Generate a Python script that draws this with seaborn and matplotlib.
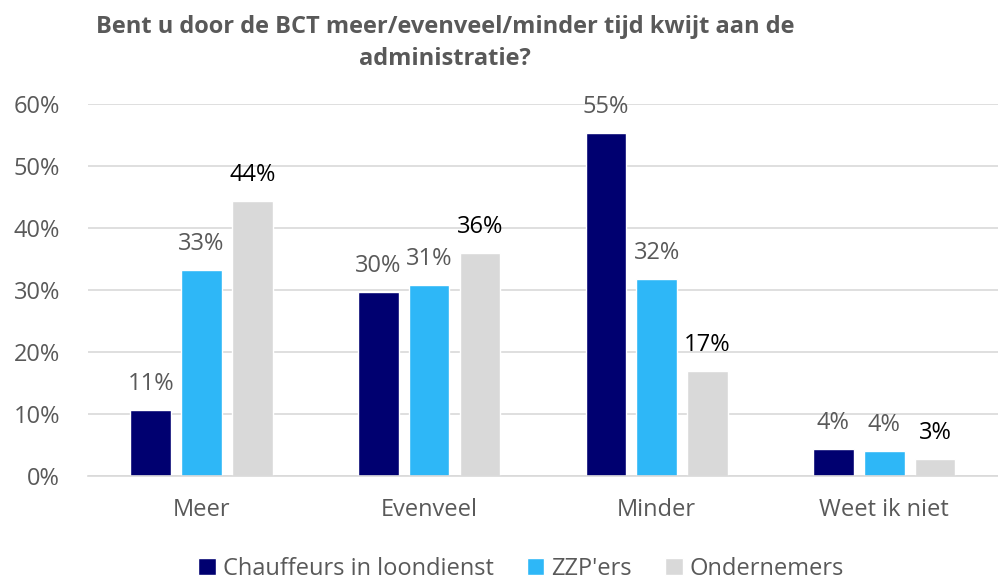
import matplotlib
matplotlib.use("Agg")
import matplotlib.pyplot as plt
import seaborn as sns
import pandas as pd
from matplotlib.ticker import PercentFormatter

categories = ["Meer", "Evenveel", "Minder", "Weet ik niet"]
series = ["Chauffeurs in loondienst", "ZZP'ers", "Ondernemers"]
chauffeurs = [10.6, 29.7, 55.4, 4.4]
zzp = [33.3, 30.8, 31.8, 4.0]
ondernemers = [44.4, 36.0, 17.0, 2.7]
labels_ch = ["11%", "30%", "55%", "4%"]
labels_zzp = ["33%", "31%", "32%", "4%"]
labels_ond = ["44%", "36%", "17%", "3%"]
colors = ["#000070", "#2EB7F7", "#D9D9D9"]

rows = []
for s, vals in zip(series, [chauffeurs, zzp, ondernemers]):
    for c, v in zip(categories, vals):
        rows.append({"cat": c, "serie": s, "val": v})
df = pd.DataFrame(rows)

sns.set_theme(style="white")
plt.rcParams["font.family"] = ["Open Sans", "DejaVu Sans"]

fig = plt.figure(figsize=(9.98, 5.81), dpi=100)
ax = fig.add_axes([0.088, 0.1807, 0.912, 0.6403])
sns.barplot(data=df, x="cat", y="val", hue="serie", palette=colors,
            width=0.67, gap=0.2, ax=ax, legend=True, saturation=1)

ax.set_ylim(0, 60)
ax.set_yticks(range(0, 61, 10))
ax.yaxis.set_major_formatter(PercentFormatter(decimals=0))
ax.grid(axis="y", color="#D9D9D9", linewidth=1.2)
ax.set_axisbelow(True)
for sp in ["top", "right", "left"]:
    ax.spines[sp].set_visible(False)
ax.spines["bottom"].set_color("#D9D9D9")
ax.spines["bottom"].set_linewidth(1.2)
ax.set_xlabel("")
ax.set_ylabel("")
ax.tick_params(axis="both", length=0, labelsize=17, labelcolor="#595959")
ax.tick_params(axis="x", pad=16)
ax.tick_params(axis="y", pad=20)

for cont, labs, col in zip(ax.containers, [labels_ch, labels_zzp, labels_ond],
                           ["#595959", "#595959", "#000000"]):
    ax.bar_label(cont, labels=labs, padding=10, fontsize=17, color=col)

leg = ax.legend(loc="upper center", bbox_to_anchor=(0.476, -0.172), ncol=3, frameon=False,
                fontsize=17, handlelength=0.75, handleheight=0.75, handletextpad=0.3,
                columnspacing=1.4, labelcolor="#595959", borderpad=0.2)

fig.text(0.446, 0.975, "Bent u door de BCT meer/evenveel/minder tijd kwijt aan de\nadministratie?",
         ha="center", va="top", fontsize=17, fontweight="bold", color="#595959",
         linespacing=1.45)

fig.savefig("out.png", dpi=100)
